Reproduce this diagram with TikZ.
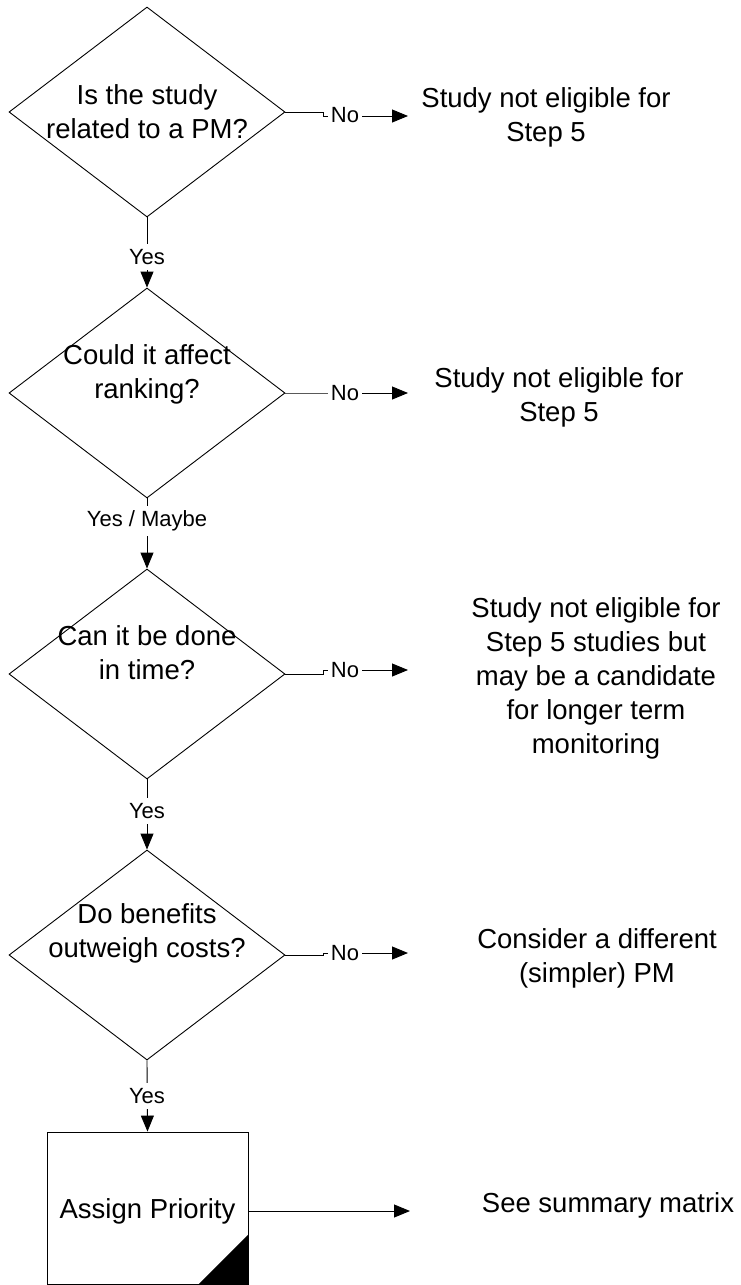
\documentclass[tikz,border=0pt]{standalone}
\usepackage{fontspec}
\setmainfont{Liberation Sans}
\usetikzlibrary{shapes.geometric,arrows.meta}
\newcommand{\mlines}[1]{\begin{tabular}[t]{@{}c@{}}#1\end{tabular}}
\begin{document}
\begin{tikzpicture}[x=1pt,y=-1pt,
  dec/.style={diamond, draw, line width=0.9pt, minimum width=276pt, minimum height=210pt, inner sep=0pt},
  txt/.style={font=\fontsize{27.5}{34}\selectfont, inner sep=0pt, anchor=base},
  lab/.style={font=\fontsize{22}{26}\selectfont, fill=white, inner xsep=3pt, inner ysep=5pt},
  conn/.style={line width=0.9pt, -{Triangle[length=16pt,width=13pt]}},
  boxst/.style={draw, line width=0.9pt, minimum width=201pt, minimum height=152pt, inner sep=0pt,
    font=\fontsize{27.5}{34}\selectfont, text height=24pt, text depth=4pt},
]
\useasboundingbox (0,0) rectangle (740,1285);

% decisions
\node[dec] (d1) at (147,112) {};
\node[dec] (d2) at (147,393) {};
\node[dec] (d3) at (147,674) {};
\node[dec] (d4) at (147,955) {};

\node[txt] (q1) at (147,104) {\mlines{Is the study\\related to a PM?}};
\node[txt] (q2) at (147,364) {\mlines{Could it affect\\ranking?}};
\node[txt] (q3) at (147,645) {\mlines{Can it be done\\in time?}};
\node[txt] (q4) at (147,923) {\mlines{Do benefits\\outweigh costs?}};

% process box
\node[boxst] (box) at (147.5,1208) {Assign Priority};
\fill ([yshift=50pt]box.south east) -- (box.south east) -- ([xshift=-50pt]box.south east) -- cycle;

% outcomes
\node[txt] (r1) at (546,107) {\mlines{Study not eligible for\\Step 5}};
\node[txt] (r2) at (559,387) {\mlines{Study not eligible for\\Step 5}};
\node[txt] (r3) at (596,617) {\mlines{Study not eligible for\\Step 5 studies but\\may be a candidate\\for longer term\\monitoring}};
\node[txt] (r4) at (597,948) {\mlines{Consider a different\\(simpler) PM}};
\node[txt] (r5) at (608,1212) {See summary matrix};

% arrow tips in front of outcomes
\coordinate (t1) at (408,116);
\coordinate (t2) at (408,393);
\coordinate (t3) at (408,670);
\coordinate (t4) at (408,953);
\coordinate (t5) at (410,1211);

% vertical connectors
\draw[conn] (d1.south) -- (d2.north);
\draw[conn] (d2.south) -- (d3.north);
\draw[conn] (d3.south) -- (d4.north);
\draw[conn] (d4.south) -- (box.north);

% horizontal connectors
\draw[conn] (d1.east) -- ++(38,0) |- (t1);
\draw[conn] (d2.east) -- ++(38,0) |- (t2);
\draw[conn] (d3.east) -- ++(38,0) |- (t3);
\draw[conn] (d4.east) -- ++(38,0) |- (t4);
\draw[conn] (box.east |- t5) -- (t5);

% labels
\node[lab] (y1) at (147,257) {Yes};
\node[lab] (y2) at (147,521) {Yes / Maybe};
\node[lab] (y3) at (147,811) {Yes};
\node[lab] (y4) at (147,1096) {Yes};
\node[lab] (n1) at (345,115) {No};
\node[lab] (n2) at (345,393) {No};
\node[lab] (n3) at (345,670) {No};
\node[lab] (n4) at (345,953) {No};
\end{tikzpicture}
\end{document}
